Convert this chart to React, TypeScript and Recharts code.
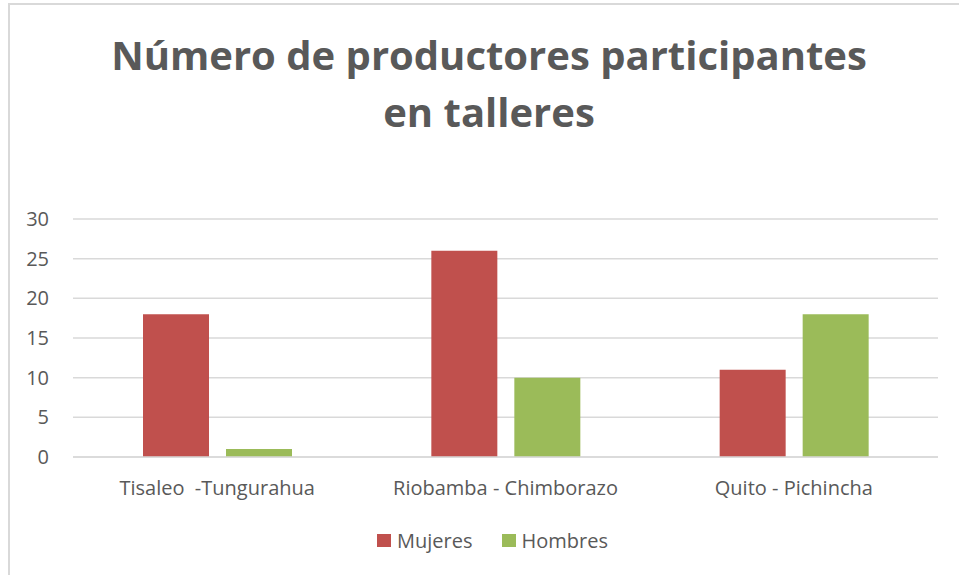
import React from 'react';
import { Bar, BarChart, CartesianGrid, Legend, XAxis, YAxis } from 'recharts';

const categories = ['Tisaleo \u00a0-Tungurahua', 'Riobamba - Chimborazo', 'Quito - Pichincha'];
const mujeres = [18, 26, 11];
const hombres = [1, 10, 18];
const yTicks = [0, 5, 10, 15, 20, 25, 30];
const seriesOrder = ['Mujeres', 'Hombres'];

const data = categories.map((name, i) => ({ name, Mujeres: mujeres[i], Hombres: hombres[i] }));

const FONT = '"Open Sans", sans-serif';
const TEXT = '#595959';

const renderLegend = (props: any) => {
  const items = [...(props.payload || [])].sort(
    (a: any, b: any) => seriesOrder.indexOf(a.value) - seriesOrder.indexOf(b.value)
  );
  return (
    <div style={{ display: 'flex', justifyContent: 'center', fontFamily: FONT, fontSize: 20, color: TEXT }}>
      {items.map((entry: any, i: number) => (
        <div key={i} style={{ display: 'flex', alignItems: 'center', marginRight: i === 0 ? 29 : 0 }}>
          <span style={{ display: 'inline-block', width: 14, height: 13, background: entry.color, marginRight: 6 }} />
          <span>{entry.value}</span>
        </div>
      ))}
    </div>
  );
};

export default function App() {
  return (
    <div style={{ position: 'absolute', left: 0, top: 0, width: 959, height: 575, overflow: 'hidden', background: '#fff' }}>
      <div
        style={{
          position: 'absolute',
          left: 8,
          top: 3,
          width: 1000,
          height: 620,
          borderLeft: '2px solid #d9d9d9',
          borderTop: '2px solid #d9d9d9',
        }}
      />
      <div
        style={{
          position: 'absolute',
          left: 8,
          top: 26,
          width: 962,
          textAlign: 'center',
          fontFamily: FONT,
          fontWeight: 'bold',
          fontSize: 40,
          lineHeight: '57px',
          color: TEXT,
        }}
      >
        Número de productores participantes
        <br />
        en talleres
      </div>
      <div style={{ position: 'absolute', left: 0, top: 0 }}>
        <BarChart
          width={959}
          height={575}
          data={data}
          margin={{ top: 219, right: 21, left: 13, bottom: 0 }}
          barCategoryGap={70}
          barGap={17}
        >
          <CartesianGrid vertical={false} stroke="#d9d9d9" strokeWidth={1.5} />
          <YAxis
            width={60}
            domain={[0, 30]}
            ticks={yTicks}
            tickLine={false}
            axisLine={false}
            tickSize={0}
            tickMargin={24}
            tick={{ fill: TEXT, fontSize: 20, fontFamily: FONT }}
          />
          <XAxis
            dataKey="name"
            height={91}
            tickLine={false}
            axisLine={{ stroke: '#d9d9d9', strokeWidth: 1.5 }}
            tickSize={0}
            tickMargin={24}
            interval={0}
            tick={{ fill: TEXT, fontSize: 20, fontFamily: FONT }}
          />
          <Legend
            content={renderLegend}
            wrapperStyle={{ position: 'absolute', top: 527, left: 13, width: 959 }}
          />
          <Bar dataKey="Mujeres" fill="#C0504D" isAnimationActive={false} />
          <Bar dataKey="Hombres" fill="#9BBB59" isAnimationActive={false} />
        </BarChart>
      </div>
    </div>
  );
}
